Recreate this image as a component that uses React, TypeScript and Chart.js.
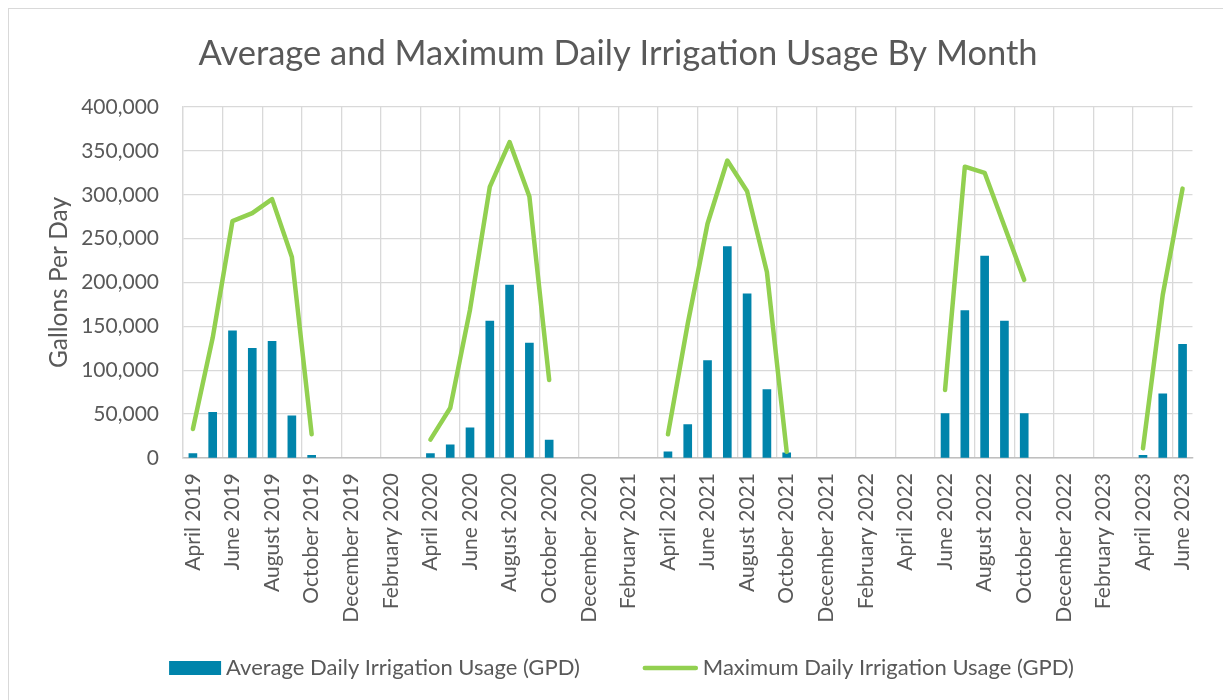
import React, { useEffect, useRef } from "react";
import { Chart, registerables } from "chart.js";

Chart.register(...registerables);

const months: string[] = [
  "April 2019", "May 2019", "June 2019", "July 2019", "August 2019", "September 2019", "October 2019", "November 2019", "December 2019",
  "January 2020", "February 2020", "March 2020", "April 2020", "May 2020", "June 2020", "July 2020", "August 2020", "September 2020", "October 2020", "November 2020", "December 2020",
  "January 2021", "February 2021", "March 2021", "April 2021", "May 2021", "June 2021", "July 2021", "August 2021", "September 2021", "October 2021", "November 2021", "December 2021",
  "January 2022", "February 2022", "March 2022", "April 2022", "May 2022", "June 2022", "July 2022", "August 2022", "September 2022", "October 2022", "November 2022", "December 2022",
  "January 2023", "February 2023", "March 2023", "April 2023", "May 2023", "June 2023",
];

const avgDaily: (number | null)[] = [
  5000, 52000, 145000, 125000, 133000, 48000, 3000, null, null,
  null, null, null, 5000, 15000, 34500, 156000, 197000, 131000, 20500, null, null,
  null, null, null, 7000, 38000, 111000, 241000, 187000, 78000, 6000, null, null,
  null, null, null, null, null, 50500, 168000, 230000, 156000, 50500, null, null,
  null, null, null, 3000, 73000, 129500,
];

const maxDaily: (number | null)[] = [
  33000, 137000, 270000, 279000, 295000, 229000, 27000, null, null,
  null, null, null, 21000, 57000, 169000, 309000, 360000, 298000, 89000, null, null,
  null, null, null, 27000, 153000, 267000, 339000, 304000, 212000, 7000, null, null,
  null, null, null, null, null, 77500, 332000, 325000, 264000, 203000, null, null,
  null, null, null, 11000, 186000, 307000,
];

const yTicks: number[] = [0, 50000, 100000, 150000, 200000, 250000, 300000, 350000, 400000];

const FONT = "Lato, 'Open Sans', sans-serif";
const TEXT = "#595959";
const GRID = "#d9d9d9";
const BAR_COLOR = "#0084ab";
const LINE_COLOR = "#92d050";

const legendPlugin = {
  id: "excelLegend",
  afterDraw(chart: any) {
    const ctx = chart.ctx as CanvasRenderingContext2D;
    const ds = chart.data.datasets;
    const t1 = ds[0].label as string;
    const t2 = ds[1].label as string;
    ctx.save();
    ctx.font = `22px ${FONT}`;
    const w1 = ctx.measureText(t1).width;
    const w2 = ctx.measureText(t2).width;
    const boxW = 52;
    const lineW = 55;
    const gapText = 5;
    const gapItem = 63;
    const total = boxW + gapText + w1 + gapItem + lineW + gapText + w2;
    let x = 621.5 - total / 2;
    const y = 668;
    ctx.fillStyle = BAR_COLOR;
    ctx.fillRect(x, y - 7, boxW, 14);
    x += boxW + gapText;
    ctx.fillStyle = TEXT;
    ctx.textBaseline = "middle";
    ctx.textAlign = "left";
    ctx.fillText(t1, x, y);
    x += w1 + gapItem;
    ctx.strokeStyle = LINE_COLOR;
    ctx.lineWidth = 4.5;
    ctx.lineCap = "round";
    ctx.beginPath();
    ctx.moveTo(x + 2, y);
    ctx.lineTo(x + lineW - 2, y);
    ctx.stroke();
    x += lineW + gapText;
    ctx.fillText(t2, x, y);
    ctx.restore();
  },
};

export default function App() {
  const ref = useRef<HTMLCanvasElement | null>(null);

  useEffect(() => {
    if (!ref.current) return;
    const chart = new Chart(ref.current, {
      type: "bar",
      data: {
        labels: months,
        datasets: [
          {
            type: "bar",
            label: "Average Daily Irrigation Usage (GPD)",
            data: avgDaily,
            backgroundColor: BAR_COLOR,
            borderWidth: 0,
            barThickness: 8,
            order: 1,
          },
          {
            type: "line",
            label: "Maximum Daily Irrigation Usage (GPD)",
            data: maxDaily,
            borderColor: LINE_COLOR,
            backgroundColor: LINE_COLOR,
            borderWidth: 4.5,
            borderCapStyle: "round",
            borderJoinStyle: "round",
            pointRadius: 0,
            pointHoverRadius: 0,
            tension: 0,
            spanGaps: false,
            order: 0,
          } as any,
        ],
      },
      plugins: [legendPlugin],
      options: {
        animation: false,
        responsive: false,
        maintainAspectRatio: false,
        layout: { padding: { left: 37, right: 24, top: 33, bottom: 70 } },
        plugins: {
          title: {
            display: true,
            text: "Average and Maximum Daily Irrigation Usage By Month",
            color: TEXT,
            font: { family: FONT, size: 34.5, weight: "normal" },
            padding: { top: 0, bottom: 32.6 },
          },
          legend: { display: false },
          tooltip: { enabled: false },
        },
        scales: {
          x: {
            offset: true,
            grid: {
              offset: true,
              drawTicks: false,
              color: (ctx: any) => (ctx.index % 2 === 0 ? GRID : "rgba(0,0,0,0)"),
              lineWidth: 1.3,
            },
            border: { color: "#bfbfbf", width: 1.5 },
            ticks: {
              autoSkip: false,
              maxRotation: 90,
              minRotation: 90,
              padding: 15,
              color: TEXT,
              font: { family: FONT, size: 21 },
              callback: (_v: any, i: number) => (i % 2 === 0 ? months[i] : ""),
            },
            afterFit: (scale: any) => {
              scale.height = 172;
            },
          },
          y: {
            min: 0,
            max: 400000,
            afterBuildTicks: (scale: any) => {
              scale.ticks = yTicks.map((v) => ({ value: v }));
            },
            grid: { color: GRID, drawTicks: false, lineWidth: 1.3 },
            border: { color: GRID, width: 1.3 },
            ticks: {
              padding: 24,
              color: TEXT,
              font: { family: FONT, size: 21 },
              callback: (v: any) => Number(v).toLocaleString("en-US"),
            },
            title: {
              display: true,
              text: "Gallons Per Day",
              color: TEXT,
              font: { family: FONT, size: 24.5 },
              padding: { top: 7, bottom: 0 },
            },
            afterFit: (scale: any) => {
              scale.width = 146;
            },
          },
        },
      },
    });
    return () => chart.destroy();
  }, []);

  return (
    <div style={{ position: "fixed", left: 0, top: 0, width: 1223, height: 700, background: "#fff", overflow: "hidden" }}>
      <div
        style={{
          position: "absolute",
          left: 8,
          top: 8,
          width: 1300,
          height: 800,
          border: "1.5px solid #d9d9d9",
          boxSizing: "border-box",
        }}
      />
      <canvas ref={ref} width={1223} height={700} style={{ position: "absolute", left: 0, top: 0, width: 1223, height: 700 }} />
    </div>
  );
}
